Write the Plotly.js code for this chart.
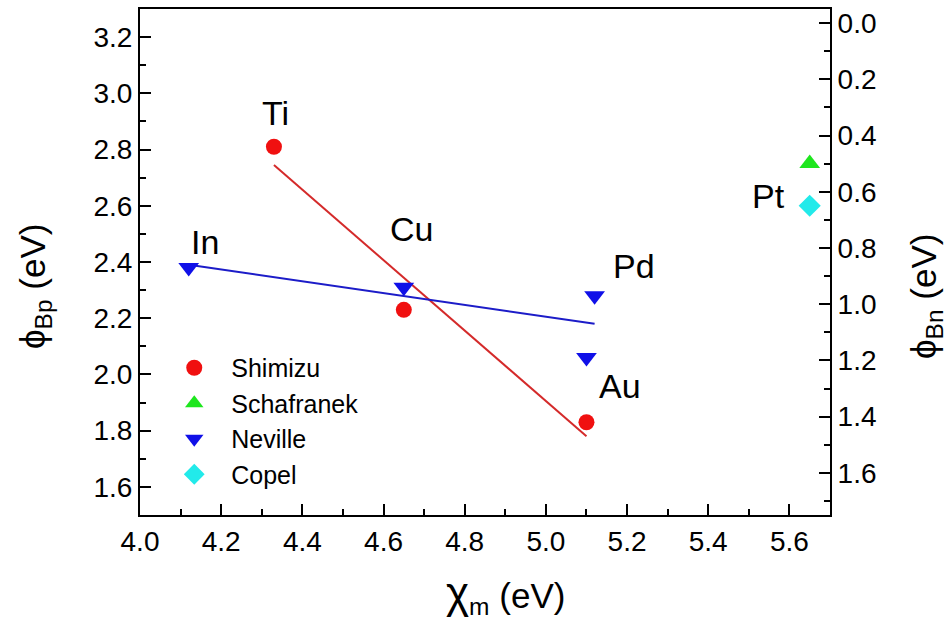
<!DOCTYPE html>
<html>
<head>
<meta charset="utf-8">
<script src="https://cdn.plot.ly/plotly-3.0.1.min.js"></script>
<style>html,body{margin:0;padding:0;background:#fff;}#chart{width:950px;height:619px;}</style>
</head>
<body>
<div id="chart"></div>
<script>
// Data
const shimizuMetals = ["Ti", "Cu", "Au"];
const shimizuX = [4.33, 4.65, 5.10];
const shimizuY = [2.81, 2.23, 1.83];          // phi_Bp (eV), left axis

const nevilleMetals = ["In", "Cu", "Pd", "Au"];
const nevilleX = [4.12, 4.65, 5.12, 5.10];
const nevilleY = [2.38, 2.31, 2.28, 2.06];    // phi_Bp (eV), left axis

const schafranekX = [5.65];
const schafranekY = [0.50];                   // phi_Bn (eV), right axis

const copelX = [5.65];
const copelY = [0.65];                        // phi_Bn (eV), right axis

// Linear fit lines (endpoints)
const fitShimizuX = [4.33, 5.10];
const fitShimizuY = [2.745, 1.78];
const fitNevilleX = [4.12, 5.12];
const fitNevilleY = [2.39, 2.18];

// Metal labels: text, attached point (x, y, axis)
const labelText = ["Ti", "In", "Cu", "Pd", "Au", "Pt"];
const labelX = [4.33, 4.12, 4.65, 5.12, 5.10, 5.65];
const labelY = [2.81, 2.38, 2.31, 2.28, 1.83, 0.65];
const labelAxis = ["y", "y", "y", "y", "y", "y2"];
const labelShiftX = [2, 16, 8, 39, 34, -41];
const labelShiftY = [34, 26, 58, 30, 36, 10];

const FONT = "Arial, 'Liberation Sans', sans-serif";

const traces = [
  {x: fitShimizuX, y: fitShimizuY, mode: "lines", line: {color: "#d42a2a", width: 2}, showlegend: false, hoverinfo: "skip"},
  {x: fitNevilleX, y: fitNevilleY, mode: "lines", line: {color: "#1c1cc8", width: 2}, showlegend: false, hoverinfo: "skip"},
  {x: shimizuX, y: shimizuY, mode: "markers", name: "Shimizu", text: shimizuMetals,
   marker: {symbol: "circle", size: 16, color: "#f01010"}},
  {x: schafranekX, y: schafranekY, yaxis: "y2", mode: "markers", name: "Schafranek",
   marker: {symbol: "triangle-up", size: 18, color: "#1ee61e"}},
  {x: nevilleX, y: nevilleY, mode: "markers", name: "Neville", text: nevilleMetals,
   marker: {symbol: "triangle-down", size: 18, color: "#1010e8"}},
  {x: copelX, y: copelY, yaxis: "y2", mode: "markers", name: "Copel",
   marker: {symbol: "diamond", size: 17, color: "#22eaea"}}
];

const annotations = labelText.map((t, i) => ({
  text: t, x: labelX[i], y: labelY[i], xref: "x", yref: labelAxis[i],
  showarrow: false, xshift: labelShiftX[i], yshift: labelShiftY[i],
  font: {family: FONT, size: 34, color: "#000"}
}));

annotations.push(
  {text: "<span style='font-size:44px'>χ</span><sub>m</sub> (eV)", xref: "paper", yref: "paper",
   x: (505 - 140) / 690, y: -(594 - 515) / 506, showarrow: false, xanchor: "center", yanchor: "middle",
   font: {family: FONT, size: 35, color: "#000"}},
  {text: "ϕ<sub>Bp</sub> (eV)", xref: "paper", yref: "paper", textangle: -90,
   x: (35 - 140) / 690, y: (515 - 287) / 506, showarrow: false, xanchor: "center", yanchor: "middle",
   font: {family: FONT, size: 35, color: "#000"}},
  {text: "ϕ<sub>Bn</sub> (eV)", xref: "paper", yref: "paper", textangle: -90,
   x: (926 - 140) / 690, y: (515 - 297) / 506, showarrow: false, xanchor: "center", yanchor: "middle",
   font: {family: FONT, size: 35, color: "#000"}}
);

const axisCommon = {
  ticks: "inside", ticklen: 11, tickwidth: 2, tickcolor: "#000",
  showline: true, linewidth: 2, linecolor: "#000",
  showgrid: false, zeroline: false, tickformat: ".1f",
  tickfont: {family: FONT, size: 28, color: "#000"},
  minor: {ticks: "inside", ticklen: 6, tickwidth: 2, tickcolor: "#000", dtick: 0.1, showgrid: false}
};

const layout = {
  width: 950, height: 619,
  margin: {l: 140, r: 120, t: 9, b: 104},
  paper_bgcolor: "#fff", plot_bgcolor: "#fff",
  font: {family: FONT, color: "#000"},
  xaxis: Object.assign({}, axisCommon, {range: [4.0, 5.7], tick0: 4.0, dtick: 0.2, mirror: true,
    minor: Object.assign({}, axisCommon.minor, {tick0: 4.0})}),
  yaxis: Object.assign({}, axisCommon, {range: [1.5, 3.3], tick0: 1.6, dtick: 0.2,
    minor: Object.assign({}, axisCommon.minor, {tick0: 1.5})}),
  yaxis2: Object.assign({}, axisCommon, {range: [1.75, -0.05], tick0: 0, dtick: 0.2,
    overlaying: "y", side: "right",
    minor: Object.assign({}, axisCommon.minor, {tick0: 0})}),
  legend: {x: 0.025, y: 0.336, xanchor: "left", yanchor: "top", bgcolor: "rgba(0,0,0,0)",
    font: {family: FONT, size: 25, color: "#000"}, itemsizing: "trace", itemwidth: 64, tracegroupgap: 0},
  annotations: annotations,
  showlegend: true
};

Plotly.newPlot("chart", traces, layout, {displayModeBar: false, staticPlot: true});
</script>
</body>
</html>
